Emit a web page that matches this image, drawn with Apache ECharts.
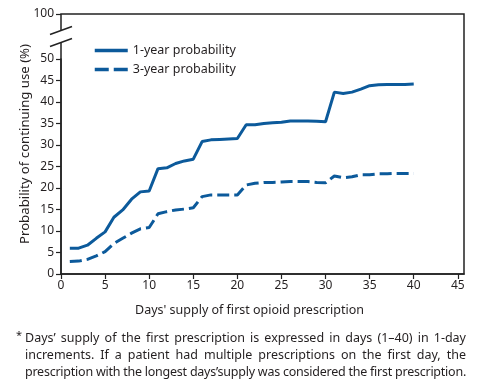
<!DOCTYPE html>
<html><head><meta charset="utf-8">
<script src="https://cdn.jsdelivr.net/npm/echarts@6/dist/echarts.min.js"></script>
<style>
html,body{margin:0;padding:0;background:#fff;}
#chart{width:489px;height:382px;position:absolute;left:0;top:0;}
#note{position:absolute;left:25px;top:329px;width:441px;font-family:'Noto Sans';font-size:12.5px;line-height:17px;color:#231f20;}
#note .ln{display:block;white-space:nowrap;}
#note .ln span{display:inline-block;white-space:nowrap;}
#star{position:absolute;left:-9px;top:-3px;font-size:11px;}
</style></head>
<body>
<div id="chart"></div>
<div id="note"><span id="star">*</span>
<div class="ln"><span>Days’ supply of the first prescription is expressed in days (1–40) in 1-day</span></div>
<div class="ln"><span>increments. If a patient had multiple prescriptions on the first day, the</span></div>
<div class="ln"><span>prescription with the longest days’supply was considered the first prescription.</span></div>
</div>
<script>
const days = [1,2,3,4,5,6,7,8,9,10,11,12,13,14,15,16,17,18,19,20,21,22,23,24,25,26,27,28,29,30,31,32,33,34,35,36,37,38,39,40];
const oneYear = [6.0,6.0,6.7,8.3,9.8,13.2,14.9,17.4,19.1,19.3,24.5,24.7,25.7,26.3,26.7,30.8,31.2,31.3,31.4,31.5,34.7,34.7,35.0,35.2,35.3,35.6,35.6,35.6,35.5,35.4,42.3,42.0,42.3,43.0,43.8,44.0,44.1,44.1,44.1,44.2];
const threeYear = [2.9,3.0,3.4,4.2,5.2,7.1,8.3,9.5,10.5,10.8,14.0,14.5,14.9,15.1,15.4,18.0,18.4,18.4,18.4,18.4,20.7,21.1,21.3,21.3,21.4,21.5,21.5,21.5,21.3,21.2,22.8,22.4,22.6,23.1,23.1,23.3,23.3,23.4,23.4,23.4];
const seriesNames = ['1-year probability','3-year probability'];
const xTitle = "Days' supply of first opioid prescription";
const yTitle = 'Probability of continuing use (%)';

const BLUE = '#0c5a9b';
const TXT = '#231f20';
const FONT = 'Noto Sans';
const chart = echarts.init(document.getElementById('chart'), null, {renderer:'canvas'});
const pairs = a => days.map((d,i)=>[d,a[i]]);
chart.setOption({
  animation:false,
  backgroundColor:'#fff',
  textStyle:{fontFamily:FONT,color:TXT},
  grid:{left:61,right:25,top:14,bottom:108,show:true,borderColor:'#222',borderWidth:1.5,backgroundColor:'transparent'},
  legend:{orient:'vertical',left:88,top:39,itemWidth:33,itemHeight:14,itemGap:6,
    itemStyle:{opacity:0},lineStyle:{width:3.5},
    textStyle:{fontSize:12.5,color:TXT,fontFamily:FONT},
    data:[{name:seriesNames[0]},{name:seriesNames[1],lineStyle:{type:[14,5],width:3.5}}]},
  xAxis:{type:'value',min:0,max:45.7,interval:5,
    name:xTitle,nameLocation:'middle',nameGap:30,nameMoveOverlap:false,
    nameTextStyle:{fontSize:12.5,color:TXT,fontFamily:FONT,padding:[0,26,0,0]},
    axisLine:{lineStyle:{color:'#222',width:1.5}},
    axisTick:{length:5,lineStyle:{color:'#222',width:1.2}},
    axisLabel:{fontSize:12,color:TXT,margin:6,showMaxLabel:false},
    splitLine:{show:false}},
  yAxis:{type:'value',min:0,max:100,interval:5,
    breaks:[{start:50,end:100,gap:10.47}],
    breakArea:{show:false},
    name:yTitle,nameLocation:'middle',nameGap:29,nameMoveOverlap:false,
    nameTextStyle:{fontSize:13.2,color:TXT,fontFamily:FONT},
    axisLine:{show:true,lineStyle:{color:'#222',width:1.5}},
    axisTick:{show:true,length:5,lineStyle:{color:'#222',width:1.2}},
    axisLabel:{fontSize:12,color:TXT,margin:7},
    splitLine:{show:false}},
  series:[
    {name:seriesNames[0],type:'line',data:pairs(oneYear),showSymbol:false,symbol:'none',
      lineStyle:{color:BLUE,width:3},itemStyle:{color:BLUE}},
    {name:seriesNames[1],type:'line',data:pairs(threeYear),showSymbol:false,symbol:'none',
      lineStyle:{color:BLUE,width:3,type:[12,5]},itemStyle:{color:BLUE}}
  ]
});
const ax = chart.convertToPixel({xAxisIndex:0},0);
const y50 = chart.convertToPixel({yAxisIndex:0},50);
const y100 = chart.convertToPixel({yAxisIndex:0},100);
const mid = (y50+y100)/2;
chart.setOption({graphic:[
  {type:'rect',shape:{x:ax-3,y:mid-6,width:6,height:12},style:{fill:'#fff'},z:100},
  {type:'line',shape:{x1:ax-11,y1:mid-2,x2:ax+11,y2:mid-10},style:{stroke:'#222',lineWidth:1.5},z:101},
  {type:'line',shape:{x1:ax-11,y1:mid+10,x2:ax+11,y2:mid+2},style:{stroke:'#222',lineWidth:1.5},z:101}
]});
// fit footnote lines to the block width
const W = 441;
document.querySelectorAll('#note .ln span').forEach(el=>{
  const w = el.getBoundingClientRect().width;
  const txt = el.textContent;
  if (w > W) { el.style.letterSpacing = ((W - w) / txt.length) + 'px'; }
  else { const spaces = (txt.match(/ /g)||[]).length; el.style.wordSpacing = ((W - w)/spaces) + 'px'; }
});
</script>
</body></html>
